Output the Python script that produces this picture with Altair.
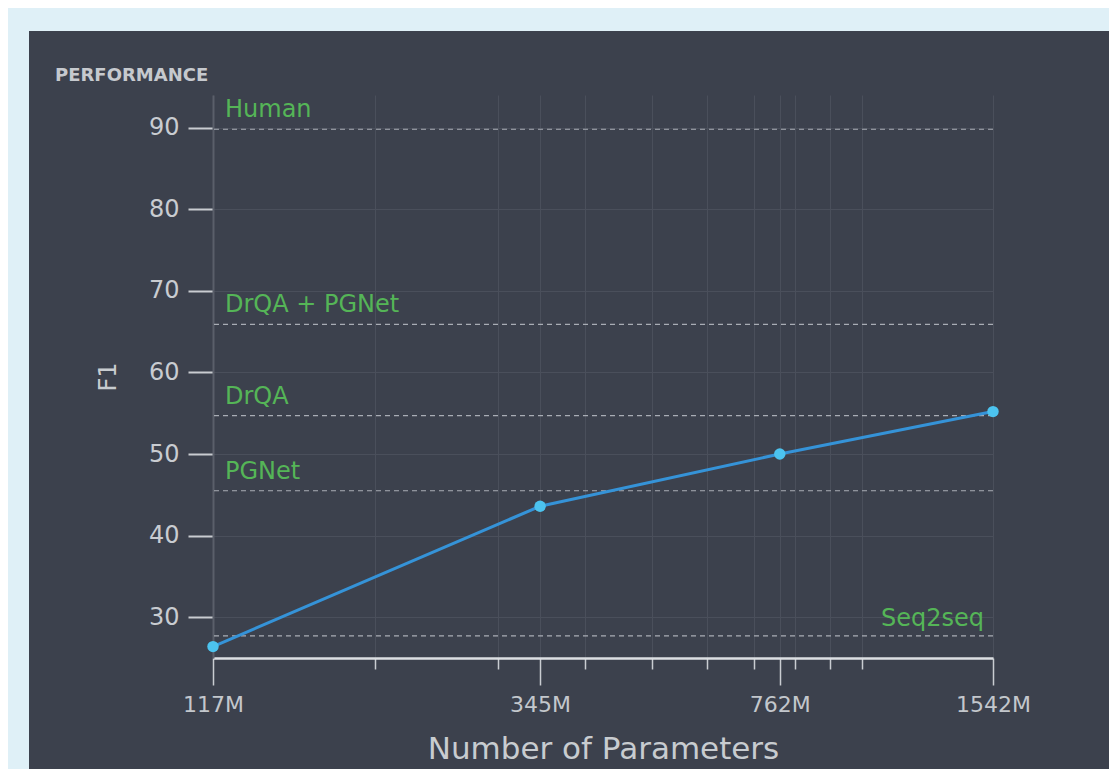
import json
import altair as alt
import pandas as pd

# ---- data ----
params = [117, 345, 762, 1542]          # millions of parameters
f1 = [26.4, 43.6, 50.0, 55.2]
ref_names = ["Human", "DrQA + PGNet", "DrQA", "PGNet", "Seq2seq"]
ref_f1 = [89.8, 65.9, 54.7, 45.5, 27.7]
y_ticks = [30, 40, 50, 60, 70, 80, 90]
x_major = [117, 345, 762, 1542]
x_minor = [200, 300, 400, 500, 600, 700, 800, 900, 1000]

# ---- layout ----
W, H = 780, 563
PAD_L, PAD_T = 205, 87
PAD_R = 1101 - PAD_L - W
PAD_B = 761 - PAD_T - H

OUTER = "#dff0f7"
PANEL = "#3c414d"
GREEN = "#55b557"
FONT = "DejaVu Sans"

df = pd.DataFrame({"params": params, "f1": f1})
ref = pd.DataFrame({"name": ref_names, "f1": ref_f1})
one = pd.DataFrame({"a": [0]})

x_scale = alt.Scale(type="log", domain=[min(params), max(params)], nice=False)
y_scale = alt.Scale(domain=[25, 94], nice=False, zero=False)

major_test = "indexof(" + json.dumps(x_major) + ", datum.value) >= 0"

x_axis = alt.Axis(
    values=sorted(x_major + x_minor),
    labelExpr=major_test + " ? datum.value + 'M' : ''",
    labelFlush=False,
    labelOverlap=False,
    labelFontSize=22,
    labelColor="#c3c7cc",
    labelPadding=9,
    tickSize={"condition": {"test": major_test, "value": 27}, "value": 11},
    tickColor="#c9ccd1",
    tickWidth=1.5,
    domainColor="#dcdfe3",
    domainWidth=2.5,
    grid=True,
    gridColor="#4a4f5b",
    gridWidth=1,
    title="Number of Parameters",
    titleFontSize=31,
    titleFontWeight="normal",
    titleColor="#c8ccd0",
    titlePadding=19,
)

y_axis = alt.Axis(
    values=y_ticks,
    labelFontSize=24,
    labelColor="#c9ccd1",
    labelPadding=9,
    tickSize=25,
    tickColor="#c9ccd1",
    tickWidth=2,
    domainColor="#5a5f6a",
    domainWidth=2,
    grid=True,
    gridColor="#4a4f5b",
    gridWidth=1,
    title="F1",
    titleFontSize=24,
    titleFontWeight="normal",
    titleColor="#c8ccd0",
    titlePadding=28,
)

base = alt.Chart(df)

line = base.mark_line(color="#3593d8", strokeWidth=3).encode(
    x=alt.X("params:Q", scale=x_scale, axis=x_axis),
    y=alt.Y("f1:Q", scale=y_scale, axis=y_axis),
)
points = base.mark_point(filled=True, color="#4cc3ef", size=130, opacity=1).encode(
    x=alt.X("params:Q", scale=x_scale),
    y=alt.Y("f1:Q", scale=y_scale),
)

rules = alt.Chart(ref).mark_rule(
    color="#a9adb5", strokeWidth=1.2, strokeDash=[5, 4]
).encode(y=alt.Y("f1:Q", scale=y_scale))

labels_left = alt.Chart(ref).transform_filter(
    alt.datum.name != "Seq2seq"
).mark_text(
    align="left", baseline="alphabetic", dx=12, dy=-12,
    color=GREEN, fontSize=24, font=FONT
).encode(
    x=alt.datum(min(params), scale=x_scale),
    y=alt.Y("f1:Q", scale=y_scale),
    text="name:N",
)
labels_right = alt.Chart(ref).transform_filter(
    alt.datum.name == "Seq2seq"
).mark_text(
    align="right", baseline="alphabetic", dx=-9, dy=-10,
    color=GREEN, fontSize=24, font=FONT
).encode(
    x=alt.datum(max(params), scale=x_scale),
    y=alt.Y("f1:Q", scale=y_scale),
    text="name:N",
)

# chart heading, top-left of the dark panel
heading = alt.Chart(one).mark_text(
    align="left", baseline="alphabetic", fontSize=18, fontWeight="bold",
    color="#c6c9ce", font=FONT, text="PERFORMANCE",
).encode(x=alt.value(-158), y=alt.value(-14))

# light-blue outer frame strips (decoration around the dark panel)
strip_top = alt.Chart(one).mark_rect(color=OUTER).encode(
    x=alt.value(-PAD_L), x2=alt.value(W + PAD_R),
    y=alt.value(-PAD_T), y2=alt.value(-64),
)
strip_left = alt.Chart(one).mark_rect(color=OUTER).encode(
    x=alt.value(-PAD_L), x2=alt.value(-184),
    y=alt.value(-PAD_T), y2=alt.value(H + PAD_B),
)

chart = alt.layer(
    strip_top, strip_left, heading, rules, line, points, labels_left, labels_right
).properties(
    width=W,
    height=H,
    padding={"left": PAD_L, "top": PAD_T, "right": PAD_R, "bottom": PAD_B},
    autosize=alt.AutoSizeParams(type="none"),
).configure(
    background=PANEL,
    font=FONT,
).configure_view(
    stroke=None,
)

chart.save("out.html", embed_options={"renderer": "svg", "actions": False})
